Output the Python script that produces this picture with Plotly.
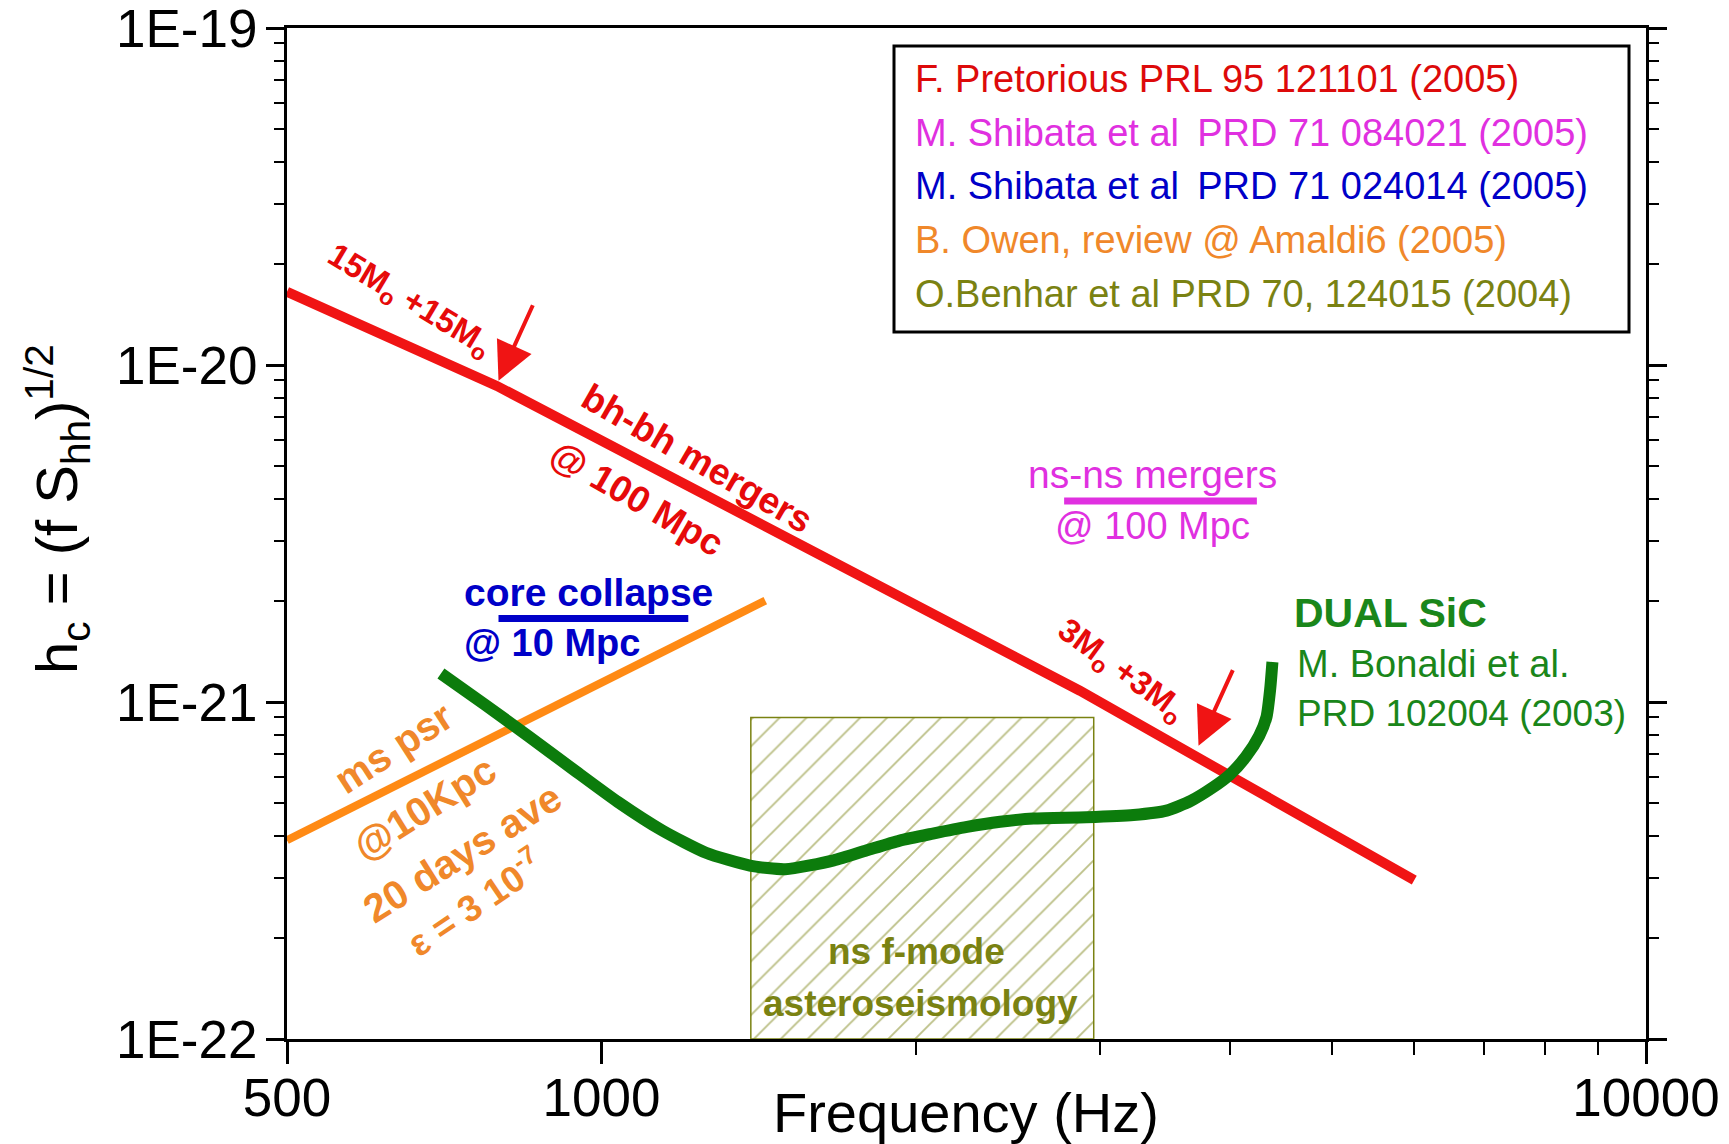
import math
import plotly.graph_objects as go

# ---------------------------------------------------------------- data ----
# bh-bh mergers at 100 Mpc (F. Pretorius, PRL 95 121101)
bbh_freq = [500, 794, 2871, 4177, 6000]
bbh_hc = [1.65e-20, 8.67e-21, 1.08e-21, 5.60e-22, 2.96e-22]

# millisecond pulsar at 10 kpc, 20 days average (B. Owen, Amaldi6)
psr_freq = [500, 1435]
psr_hc = [3.89e-22, 2.00e-21]

# DUAL SiC detector sensitivity (M. Bonaldi et al., PRD 102004)
dual_freq = [702, 774, 853, 941, 1037, 1143, 1259, 1387, 1500, 1669,
             1795, 1930, 2076, 2239, 2408, 2591, 2911, 3231, 3475, 3666,
             3849, 3991, 4140, 4263, 4332, 4367, 4389]
dual_hc = [1.215e-21, 9.81e-22, 7.88e-22, 6.29e-22, 5.05e-22, 4.16e-22,
           3.57e-22, 3.27e-22, 3.19e-22, 3.39e-22, 3.63e-22, 3.88e-22,
           4.07e-22, 4.26e-22, 4.41e-22, 4.51e-22, 4.55e-22, 4.62e-22,
           4.76e-22, 5.09e-22, 5.58e-22, 6.07e-22, 6.88e-22, 7.94e-22,
           9.03e-22, 1.09e-21, 1.315e-21]

# core collapse at 10 Mpc (M. Shibata et al., PRD 71 024014)
cc_freq = [797, 1211]
cc_hc = [1.77e-21, 1.77e-21]

# ns-ns mergers at 100 Mpc (M. Shibata et al., PRD 71 084021)
nsns_freq = [2773, 4241]
nsns_hc = [3.95e-21, 3.95e-21]

# ns f-mode asteroseismology band (O. Benhar et al., PRD 70 124015)
fmode_freq = [1390, 2960]
fmode_hc = [1e-22, 9e-22]

# merger points marked on the bh-bh line
bbh15_freq, bbh15_hc = 797, 8.98e-21
bbh3_freq, bbh3_hc = 3729, 7.42e-22

x_tickvals = [500, 1000, 10000]
x_ticktext = ["500", "1000", "10000"]
x_minorvals = [2000, 3000, 4000, 5000, 6000, 7000, 8000, 9000]
y_tickvals = [1e-22, 1e-21, 1e-20, 1e-19]
y_ticktext = ["1E-22", "1E-21", "1E-20", "1E-19"]
y_minorvals = [m * 10.0 ** e for e in (-22, -21, -20) for m in range(2, 10)]

ref_lines = [
    "F. Pretorious PRL 95 121101 (2005)",
    "M. Shibata et al \u2009PRD 71 084021 (2005)",
    "M. Shibata et al \u2009PRD 71 024014 (2005)",
    "B. Owen, review @ Amaldi6 (2005)",
    "O.Benhar et al PRD 70, 124015 (2004)",
]

# ---------------------------------------------------------------- style ---
FONT = "Arial, 'Liberation Sans', sans-serif"
RED_LINE = "#f01414"
RED_TXT = "#e60a0a"
MAGENTA = "#e030e0"
BLUE = "#0000c8"
ORANGE_LINE = "#ff8a14"
ORANGE_TXT = "#f0882a"
GREEN_LINE = "#0c7c0c"
GREEN_TXT = "#1a861a"
OLIVE = "#7a8212"
ref_colors = ["#dd0a0a", MAGENTA, BLUE, ORANGE_TXT, OLIVE]

W, H = 1729, 1144
ML, MR, MT, MB = 287, 83, 28, 105

fig = go.Figure()

# f-mode band, hatched
fig.add_trace(go.Scatter(
    x=[fmode_freq[0], fmode_freq[0], fmode_freq[1], fmode_freq[1], fmode_freq[0]],
    y=[fmode_hc[0], fmode_hc[1], fmode_hc[1], fmode_hc[0], fmode_hc[0]],
    mode="lines", fill="toself", fillcolor="white",
    fillpattern=dict(shape="/", fgcolor=OLIVE, bgcolor="white", size=19,
                     solidity=0.1),
    line=dict(color=OLIVE, width=1.5), hoverinfo="skip"))

fig.add_trace(go.Scatter(x=bbh_freq, y=bbh_hc, mode="lines",
                         line=dict(color=RED_LINE, width=10)))
fig.add_trace(go.Scatter(x=psr_freq, y=psr_hc, mode="lines",
                         line=dict(color=ORANGE_LINE, width=8)))
fig.add_trace(go.Scatter(x=dual_freq, y=dual_hc, mode="lines",
                         line=dict(color=GREEN_LINE, width=12,
                                   shape="spline", smoothing=0.6)))
fig.add_trace(go.Scatter(x=cc_freq, y=cc_hc, mode="lines",
                         line=dict(color=BLUE, width=7)))
fig.add_trace(go.Scatter(x=nsns_freq, y=nsns_hc, mode="lines",
                         line=dict(color=MAGENTA, width=7)))


def px(xp):
    return (xp - ML) / (W - ML - MR)


def py(yp):
    return (H - MB - yp) / (H - MT - MB)


annotations = []


def label(text, x, y, size, color, angle=0, bold=False, xanchor="center"):
    if bold:
        text = "<b>" + text + "</b>"
    annotations.append(dict(
        text=text, x=px(x), y=py(y), xref="paper", yref="paper",
        xanchor=xanchor, yanchor="middle", textangle=angle,
        showarrow=False, font=dict(family=FONT, size=size, color=color)))


# arrows marking the merger frequencies
for fx, hy in ((bbh15_freq, bbh15_hc), (bbh3_freq, bbh3_hc)):
    annotations.append(dict(
        x=math.log10(fx), y=math.log10(hy), xref="x", yref="y",
        ax=35, ay=-77, axref="pixel", ayref="pixel", text="",
        showarrow=True, arrowhead=2, arrowsize=1.9, arrowwidth=4,
        arrowcolor=RED_LINE))

label("15M<sub>o</sub> +15M<sub>o</sub>", 409, 301, 33, RED_TXT, 31, True)
label("bh-bh mergers", 697, 458, 37, RED_TXT, 30, True)
label("@ 100 Mpc", 637, 498, 37, RED_TXT, 30, True)
label("3M<sub>o</sub> +3M<sub>o</sub>", 1121, 671, 33, RED_TXT, 36, True)
label("ns-ns mergers", 1152, 475, 39, MAGENTA)
label("@ 100 Mpc", 1152, 526, 38, MAGENTA)
label("core collapse", 588, 592, 39, BLUE, bold=True)
label("@ 10 Mpc", 552, 643, 38, BLUE, bold=True)
label("ms psr", 393, 748, 40, ORANGE_TXT, -33, True)
label("@10Kpc", 424, 808, 40, ORANGE_TXT, -32, True)
label("20 days ave", 462, 853, 40, ORANGE_TXT, -32, True)
label("\u03b5 = 3 10<sup>-7</sup>", 474, 902, 37, ORANGE_TXT, -34, True)
label("DUAL SiC", 1292, 613, 41, GREEN_TXT, bold=True, xanchor="left")
label("M. Bonaldi et al.", 1295, 664, 38, GREEN_TXT, xanchor="left")
label("PRD 102004 (2003)", 1295, 713, 37, GREEN_TXT, xanchor="left")
label("ns f-mode", 916, 951, 37, OLIVE, bold=True)
label("asteroseismology", 920, 1003, 37, OLIVE, bold=True)

# reference box
for i, (txt, col) in enumerate(zip(ref_lines, ref_colors)):
    label(txt, 913, 79 + 53.7 * i, 38, col, xanchor="left")

# axis titles
label("Frequency (Hz)", 966, 1112, 56, "black")
label("h<sub>c</sub> = (f S<sub>hh</sub>)<sup>1/2</sup>", 58, 509, 58,
      "black", -90)

shapes = [dict(type="rect", xref="paper", yref="paper",
               x0=px(894), x1=px(1629), y0=py(332), y1=py(46),
               line=dict(color="black", width=3), fillcolor="white",
               layer="above")]

axis_common = dict(
    type="log", showgrid=False, zeroline=False, linecolor="black",
    linewidth=3, ticks="outside", tickwidth=2.5, automargin=False,
    ticklabeloverflow="allow",
    tickcolor="black", tickfont=dict(family=FONT, size=53, color="black"),
)

fig.update_layout(
    width=W, height=H, showlegend=False,
    paper_bgcolor="white", plot_bgcolor="white",
    margin=dict(l=ML, r=MR, t=MT, b=MB, pad=0),
    xaxis=dict(**axis_common, range=[math.log10(500), 4.000001],
               tickmode="array", tickvals=x_tickvals, ticktext=x_ticktext,
               mirror=True, ticklen=22, ticklabelstandoff=-12,
               minor=dict(tickmode="array", tickvals=x_minorvals,
                          ticks="outside", ticklen=13, tickwidth=2,
                          tickcolor="black", showgrid=False)),
    yaxis=dict(**axis_common, range=[-22.000001, -18.999999],
               tickmode="array", tickvals=y_tickvals, ticktext=y_ticktext,
               mirror="ticks", ticklen=18, ticklabelstandoff=-2,
               minor=dict(tickmode="array", tickvals=y_minorvals,
                          ticks="outside", ticklen=10, tickwidth=2,
                          tickcolor="black", showgrid=False)),
    annotations=annotations, shapes=shapes,
)

fig.write_html("out.html")
